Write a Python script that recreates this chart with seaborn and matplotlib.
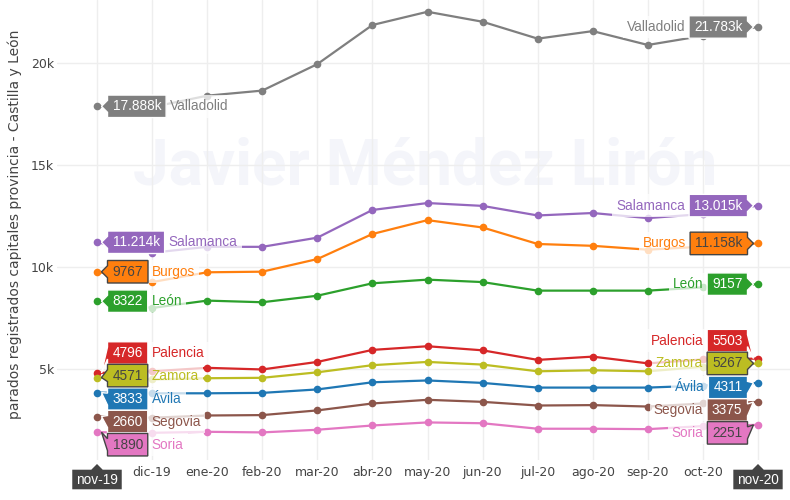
import numpy as np
import pandas as pd
import matplotlib
matplotlib.use("Agg")
import matplotlib.pyplot as plt
import seaborn as sns
from matplotlib.patches import Polygon, Rectangle
from matplotlib.transforms import IdentityTransform
from matplotlib.ticker import FuncFormatter

# ---------------- data ----------------
months = ['nov-19', 'dic-19', 'ene-20', 'feb-20', 'mar-20', 'abr-20', 'may-20',
          'jun-20', 'jul-20', 'ago-20', 'sep-20', 'oct-20', 'nov-20']
provinces = ['Ávila', 'Burgos', 'León', 'Palencia', 'Salamanca',
             'Segovia', 'Soria', 'Valladolid', 'Zamora']
avila = [3833, 3800, 3800, 3820, 3990, 4340, 4430, 4310, 4080, 4080, 4080, 4180, 4311]
burgos = [9767, 9260, 9740, 9770, 10390, 11620, 12300, 11940, 11130, 11040, 10850, 11000, 11158]
leon = [8322, 7990, 8350, 8270, 8590, 9200, 9380, 9260, 8840, 8840, 8840, 9000, 9157]
palencia = [4796, 4880, 5050, 4970, 5340, 5930, 6110, 5910, 5440, 5600, 5270, 5460, 5503]
salamanca = [11214, 10700, 10990, 10990, 11440, 12800, 13140, 13000, 12530, 12650, 12400, 12600, 13015]
segovia = [2660, 2600, 2710, 2730, 2960, 3300, 3480, 3380, 3200, 3220, 3150, 3300, 3375]
soria = [1890, 1860, 1910, 1880, 2010, 2220, 2370, 2330, 2060, 2060, 2040, 2190, 2251]
valladolid = [17888, 17850, 18410, 18660, 19960, 21880, 22530, 22040, 21210, 21580, 20900, 21350, 21783]
zamora = [4571, 4480, 4540, 4560, 4830, 5180, 5340, 5210, 4880, 4930, 4880, 5100, 5267]
series = [avila, burgos, leon, palencia, salamanca, segovia, soria, valladolid, zamora]
yticks = [5000, 10000, 15000, 20000]
ylabel = 'parados registrados capitales provincia - Castilla y León'
watermark = 'Javier Méndez Lirón'

# ---------------- style ----------------
colors = ['#1f77b4', '#ff7f0e', '#2ca02c', '#d62728', '#9467bd',
          '#8c564b', '#e377c2', '#7f7f7f', '#bcbd22']
dark_text = {'Burgos', 'Soria', 'Zamora'}
# vertical shift (image px, down positive) of the hover boxes relative to their point
shift_left = {'Valladolid': 0, 'Salamanca': 0, 'Burgos': 0, 'León': 0, 'Palencia': -20,
              'Zamora': -2, 'Ávila': 6.5, 'Segovia': 5, 'Soria': 12.5}
shift_right = {'Valladolid': 0, 'Salamanca': 0, 'Burgos': 0, 'León': 0, 'Palencia': -18,
               'Zamora': 0, 'Ávila': 4.5, 'Segovia': 8, 'Soria': 8}

rows = []
for name, vals in zip(provinces, series):
    for i, v in enumerate(vals):
        rows.append({'provincia': name, 'mes': i, 'valor': v})
df = pd.DataFrame(rows)

sns.set_theme(style='white')
plt.rcParams['font.family'] = ['DejaVu Sans']

W, H = 790, 500
fig = plt.figure(figsize=(W / 100, H / 100), dpi=100)
fig.patch.set_facecolor('white')
ax = fig.add_axes([57 / W, 40 / H, (W - 57) / W, 460 / H])
ax.set_facecolor('white')

sns.lineplot(data=df, x='mes', y='valor', hue='provincia', hue_order=provinces,
             palette=colors, marker='o', markersize=5.5, markeredgewidth=0,
             linewidth=1.6, legend=False, ax=ax, sort=False, zorder=3)

px_per_unit = (758 - 97) / 12
ax.set_xlim((57 - 97) / px_per_unit, (790 - 97) / px_per_unit)
ppk = 20.37 / 1000
ax.set_ylim((470.7 - 460) / ppk, 470.7 / ppk)

ax.set_xticks(range(len(months)))
ax.set_xticklabels([''] + months[1:-1] + [''])
ax.set_yticks(yticks)
ax.yaxis.set_major_formatter(FuncFormatter(lambda v, p: f'{int(round(v / 1000))}k'))
ax.tick_params(axis='both', length=0, labelsize=9, labelcolor='#444444')
ax.tick_params(axis='x', pad=4)
ax.tick_params(axis='y', pad=2)
ax.set_xlabel('')
ax.set_ylabel('')
for s in ax.spines.values():
    s.set_visible(False)
ax.grid(True, color='#eeeeee', linewidth=1)
ax.set_axisbelow(True)

ax.text(0.502, 0.598, watermark, transform=ax.transAxes, ha='center', va='baseline',
        fontsize=46, fontweight='bold', family='Roboto', color='#f4f5fa', zorder=0.1)

fig.text(15 / W, 1 - 224 / H, ylabel, rotation=90, ha='center', va='center',
         fontsize=10, color='#444444')

# ---------------- hover labels ----------------
rend = fig.canvas.get_renderer()
FS = 9.8
HF = 'Liberation Sans'
BOX_H = 22.5
PADX = 5
ID = IdentityTransform()


def tag(xi, val, side, off, text, fc, tc, ec, name, ncol):
    px, py = ax.transData.transform((xi, val))
    yc = py - off
    t = fig.text(0, yc, text, transform=ID, fontsize=FS, family=HF, color=tc,
                 ha='center', va='center', zorder=12)
    tw = t.get_window_extent(renderer=rend).width
    w = tw + 2 * PADX
    s = 1 if side == 'left' else -1
    tipx = px + s * 4.5
    e = px + s * 10.5
    f = e + s * w
    hh = BOX_H / 2
    verts = [(tipx, py), (e, yc - 6), (e, yc - hh), (f, yc - hh), (f, yc + hh),
             (e, yc + hh), (e, yc + 6)]
    fig.add_artist(Polygon(verts, closed=True, transform=ID, fc=fc, ec=ec, lw=1,
                           zorder=11))
    t.set_x((e + f) / 2)
    nx = f + s * 4
    nt = fig.text(nx, yc, name, transform=ID, fontsize=FS, family=HF, color=ncol,
                  ha='left' if s > 0 else 'right', va='center', zorder=12)
    nw = nt.get_window_extent(renderer=rend).width
    x0 = f if s > 0 else f - (nw + 8)
    fig.add_artist(Rectangle((x0, yc - hh), nw + 8, BOX_H, transform=ID, fc='white',
                             alpha=0.75, lw=0, zorder=10))


def fmt(v):
    return f'{v / 1000:.3f}k' if v >= 10000 else f'{v}'


last = len(months) - 1
for name, vals, col in zip(provinces, series, colors):
    dark = name in dark_text
    tc = '#444444' if dark else 'white'
    ec = '#444444' if dark else '#ffffff'
    tag(0, vals[0], 'left', shift_left[name], fmt(vals[0]), col, tc, ec, name, col)
    tag(last, vals[last], 'right', shift_right[name], fmt(vals[last]), col, tc, ec, name, col)


def xtag(xi, text):
    px, _ = ax.transData.transform((xi, 0))
    base = ax.transAxes.transform((0, 0))[1]
    tip = base - 3
    top = tip - 6
    t = fig.text(px, top - 10.5, text, transform=ID, fontsize=FS, family=HF,
                 color='white', ha='center', va='center', zorder=14)
    tw = t.get_window_extent(renderer=rend).width
    w = tw + 9
    verts = [(px, tip), (px + 6, top), (px + w / 2, top), (px + w / 2, top - 21),
             (px - w / 2, top - 21), (px - w / 2, top), (px - 6, top)]
    fig.add_artist(Polygon(verts, closed=True, transform=ID, fc='#444444',
                           ec='#ffffff', lw=1, zorder=13))


xtag(0, months[0])
xtag(last, months[last])

fig.savefig('out.png', dpi=100)
